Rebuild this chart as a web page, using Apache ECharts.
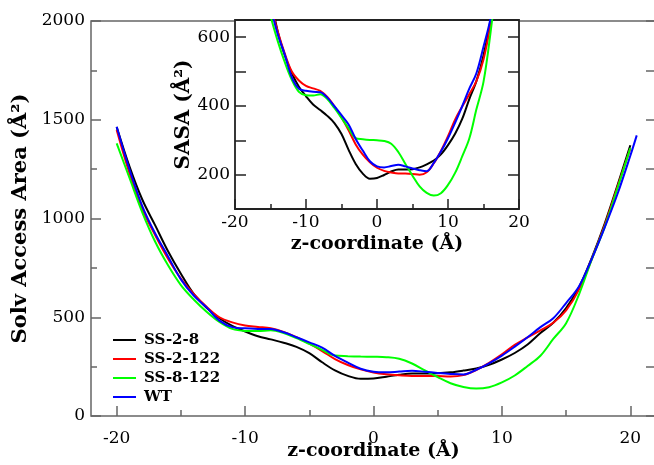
<!DOCTYPE html>
<html><head><meta charset="utf-8">
<script src="https://cdn.jsdelivr.net/npm/echarts@6/dist/echarts.min.js"></script>
<style>html,body{margin:0;padding:0;background:#fff}#c{width:654px;height:465px}</style>
</head><body><div id="c"></div>
<script>
const zGrid = [-20,-19,-18,-17,-16,-15,-14,-13,-12,-11,-10,-9,-8,-7,-6,-5,-4,-3,-2,-1,0,1,2,3,4,5,6,7,8,9,10,11,12,13,14,15,16,17,18,19,20,20.5];
const seriesNames = ['SS-2-8','SS-2-122','SS-8-122','WT'];
const ss28   = [1463,1263,1095,965,834,720,618,548,495,456,428,404,388,371,350,318,272,231,203,188,190,199,209,215,215,216,221,230,241,259,286,319,362,420,472,547,651,801,973,1168,1371,null];
const ss2122 = [1448,1228,1046,915,796,696,618,553,500,474,458,451,444,426,399,366,329,288,258,236,220,211,206,203,203,202,200,207,233,269,312,360,398,434,472,535,640,795,965,1160,1355,null];
const ss8122 = [1380,1205,1030,882,763,663,590,528,476,441,431,430,434,420,394,365,335,306,303,301,300,298,290,266,231,197,166,147,139,146,170,205,253,305,390,470,615,793,956,1153,1357,null];
const wt     = [1465,1248,1062,924,808,692,610,550,483,450,444,441,440,424,399,373,346,304,270,239,224,221,225,229,224,218,213,210,234,267,306,351,399,450,495,572,656,796,954,1124,1318,1421];
const mainXLabels = [-20,-10,0,10,20];
const mainXMinor = [-15,-5,5,15];
const insetYLabels = [200,400,600];
const insetYTicks = [200,300,400,500,600];
const colors = ['#000000','#ff0000','#00ff00','#0000ff'];

const FF = 'DejaVu Serif';
const allVals = [ss28, ss2122, ss8122, wt];
function pairs(arr){ const out=[]; zGrid.forEach((z,i)=>{ if(arr[i]!=null) out.push([z,arr[i]]); }); return out; }

const frameMain = {color:'#666', width:1.5};
const frameInset = {color:'#222', width:1.5};
const fmt = v => String(v);
const lbl = {fontFamily:FF, fontSize:17, color:'#000', formatter:fmt};
const ttl = {fontFamily:FF, fontSize:19, fontWeight:'bold', color:'#000'};
const noLine = {show:false, onZero:false};

const series = [];
allVals.forEach((arr,i)=>{
  series.push({name:seriesNames[i], type:'line', xAxisIndex:0, yAxisIndex:0, data:pairs(arr), smooth:0.35, showSymbol:false, symbol:'none', lineStyle:{color:colors[i], width:2}, itemStyle:{color:colors[i]}, z:2});
});
allVals.forEach((arr,i)=>{
  series.push({name:seriesNames[i], type:'line', xAxisIndex:2, yAxisIndex:2, data:pairs(arr), smooth:0.35, showSymbol:false, symbol:'none', clip:true, lineStyle:{color:colors[i], width:2}, itemStyle:{color:colors[i]}, z:3});
});

const chart = echarts.init(document.getElementById('c'), null, {renderer:'canvas'});
chart.setOption({
  animation:false,
  backgroundColor:'#fff',
  grid:[
    {left:91, top:21, width:565, height:395, show:true, borderColor:'#666', borderWidth:1.5, backgroundColor:'transparent', containLabel:false, outerBoundsMode:'none'},
    {left:235, top:20, width:284, height:189, show:true, borderColor:'#222', borderWidth:1.8, backgroundColor:'#fff', z:3, containLabel:false, outerBoundsMode:'none'}
  ],
  legend:{
    data:seriesNames, orient:'vertical', left:108, top:326, icon:'rect', itemWidth:23, itemHeight:2, itemGap:1,
    textStyle:{fontFamily:FF, fontWeight:'bold', fontSize:15, color:'#000', lineHeight:18, padding:[0,0,0,3]}
  },
  xAxis:[
    {gridIndex:0, type:'value', min:-22, max:22, position:'bottom', axisLine:noLine, splitLine:{show:false},
     axisTick:{inside:true, length:10, customValues:mainXLabels, lineStyle:frameMain},
     axisLabel:Object.assign({customValues:mainXLabels, margin:14}, lbl),
     name:'z-coordinate (Å)', nameLocation:'middle', nameGap:26, nameMoveOverlap:false, nameTextStyle:ttl},
    {gridIndex:0, type:'value', min:-22, max:22, position:'bottom', axisLine:noLine, splitLine:{show:false},
     axisTick:{inside:true, length:6, customValues:mainXMinor, lineStyle:frameMain}, axisLabel:{show:false}},
    {gridIndex:1, type:'value', min:-20, max:20, interval:10, position:'bottom', axisLine:noLine, splitLine:{show:false},
     axisTick:{inside:true, length:10, lineStyle:frameInset},
     minorTick:{show:true, splitNumber:2, length:5, lineStyle:frameInset},
     axisLabel:Object.assign({margin:5}, lbl),
     name:'z-coordinate (Å)', nameLocation:'middle', nameGap:26, nameTextStyle:ttl, z:4}
  ],
  yAxis:[
    {gridIndex:0, type:'value', min:0, max:2000, interval:500, position:'left', axisLine:noLine, splitLine:{show:false},
     axisTick:{inside:true, length:10, lineStyle:frameMain},
     minorTick:{show:true, splitNumber:2, length:6, lineStyle:frameMain},
     axisLabel:Object.assign({margin:6}, lbl),
     name:'Solv Access Area (Å²)', nameLocation:'middle', nameGap:50, nameTextStyle:Object.assign({}, ttl, {fontSize:21})},
    {gridIndex:0, type:'value', min:0, max:2000, interval:500, position:'right', axisLine:noLine, splitLine:{show:false},
     axisTick:{inside:true, length:10, lineStyle:frameMain},
     minorTick:{show:true, splitNumber:2, length:10, lineStyle:frameMain}, axisLabel:{show:false}},
    {gridIndex:1, type:'value', min:100, max:650, position:'left', axisLine:noLine, splitLine:{show:false},
     axisTick:{inside:true, length:11, customValues:insetYTicks, lineStyle:frameInset},
     axisLabel:Object.assign({customValues:insetYLabels, margin:5}, lbl),
     name:'SASA (Å²)', nameLocation:'middle', nameGap:39, nameTextStyle:Object.assign({}, ttl, {fontSize:20}), z:4},
    {gridIndex:1, type:'value', min:100, max:650, position:'right', axisLine:noLine, splitLine:{show:false},
     axisTick:{inside:true, length:11, customValues:insetYTicks, lineStyle:frameInset}, axisLabel:{show:false}, z:4}
  ],
  series:series
});
</script></body></html>
